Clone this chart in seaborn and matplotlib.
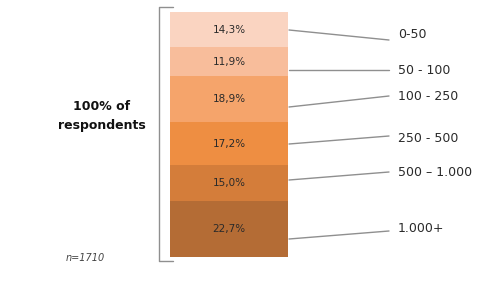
import numpy as np
import pandas as pd
import matplotlib
matplotlib.use("Agg")
import matplotlib.pyplot as plt
import seaborn as sns

# data
groups = ["0-50", "50 - 100", "100 - 250", "250 - 500", "500 \u2013 1.000", "1.000+"]
shares = [14.3, 11.9, 18.9, 17.2, 15.0, 22.7]
colors = ["#FAD4C1", "#F8BD9B", "#F5A46B", "#EE8E42", "#D47D3A", "#B46C35"]
n_resp = 1710

sns.set_theme(style="white")
plt.rcParams["font.family"] = ["DejaVu Sans"]

W, H = 481, 282
fig = plt.figure(figsize=(W / 100, H / 100), dpi=100)

# stacked bar in its own axes
ax = fig.add_axes([170 / W, (H - 257) / H, 118 / W, 245 / H])
df = pd.DataFrame({"group": groups, "share": shares})
df["bottom"] = df["share"].cumsum() - df["share"]
for i, row in df.iterrows():
    sns.barplot(x=["all"], y=[row["share"]], bottom=[row["bottom"]], color=colors[i],
                saturation=1, width=1, linewidth=0, ax=ax)
    ax.text(0, row["bottom"] + row["share"] / 2, f"{row['share']:.1f}%".replace(".", ","),
            ha="center", va="center", fontsize=7.5, color="#2a2a2a")
ax.set_xlim(-0.5, 0.5)
ax.set_ylim(100, 0)
ax.axis("off")

# overlay in pixel coords for bracket, leader lines and labels
ov = fig.add_axes([0, 0, 1, 1], zorder=-1)
ov.set_xlim(0, W)
ov.set_ylim(H, 0)
ov.axis("off")

gray = "#8f8f8f"
ov.plot([173, 159, 159, 173], [7, 7, 261, 261], color=gray, lw=1)

line_start_y = [30, 70, 107, 144, 180, 239]
line_end_y = [40, 70, 96, 136, 172, 231]
label_y = [35, 71, 97, 138, 173, 228]
for g, y0, y1, ly in zip(groups, line_start_y, line_end_y, label_y):
    ov.plot([289, 389], [y0, y1], color=gray, lw=1)
    ov.text(398, ly, g, ha="left", va="center", fontsize=9, color="#2a2a2a")

ov.text(102, 116, "100% of\nrespondents", ha="center", va="center", fontsize=9,
        fontweight="bold", color="#111111", linespacing=1.5)
ov.text(85, 258, f"n={n_resp}", ha="center", va="center", fontsize=7,
        style="italic", color="#444444")

fig.savefig("out.png", dpi=100, facecolor="white")
